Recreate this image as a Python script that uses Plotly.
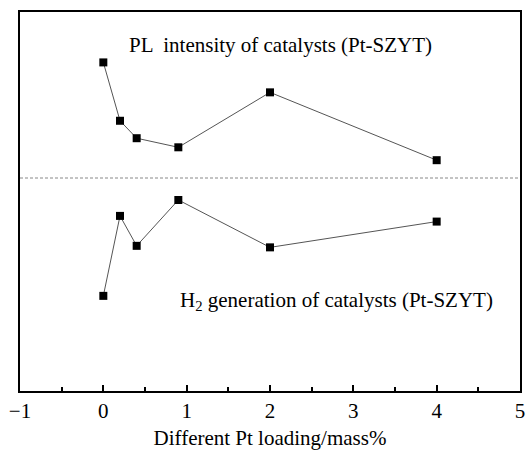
import plotly.graph_objects as go

pt_loading = [0, 0.2, 0.4, 0.9, 2, 4]
pl_intensity = [86.7, 71.3, 66.7, 64.3, 78.8, 60.9]
h2_generation = [25.1, 46.2, 38.3, 50.4, 37.9, 44.7]
divider_y = 56.2
x_ticks = [-1, 0, 1, 2, 3, 4, 5]
x_ticklabels = ["\u22121", "0", "1", "2", "3", "4", "5"]

font_family = "Liberation Serif"

fig = go.Figure()
for ys in (pl_intensity, h2_generation):
    fig.add_trace(go.Scatter(
        x=pt_loading, y=ys, mode="lines+markers",
        line=dict(color="#555555", width=1),
        marker=dict(symbol="square", size=8, color="black"),
        showlegend=False,
    ))

fig.add_shape(type="line", xref="paper", x0=0, x1=1, yref="y", y0=divider_y, y1=divider_y,
              line=dict(color="#888888", width=1, dash="3px,2px"))

fig.add_annotation(x=2.12, y=91.3, text="PL  intensity of catalysts (Pt-SZYT)", showarrow=False,
                   font=dict(family=font_family, size=21, color="black"))
fig.add_annotation(x=2.8, y=23.7, text="H<sub>2</sub> generation of catalysts (Pt-SZYT)", showarrow=False,
                   font=dict(family=font_family, size=21, color="black"))

fig.update_layout(
    width=529, height=451,
    margin=dict(l=20, r=4, t=12, b=60),
    paper_bgcolor="white", plot_bgcolor="white",
    font=dict(family=font_family, size=21, color="black"),
    xaxis=dict(
        range=[-1, 5], tickvals=x_ticks, ticktext=x_ticklabels,
        ticks="inside", ticklen=6, tickwidth=1.5, tickcolor="black",
        minor=dict(ticks="inside", dtick=0.5, ticklen=4, tickwidth=1.5, tickcolor="black"),
        showline=True, linecolor="black", linewidth=2, mirror=True,
        showgrid=False, zeroline=False,
        title=dict(text="Different Pt loading/mass%", font=dict(family=font_family, size=21), standoff=8),
        tickfont=dict(family=font_family, size=21),
    ),
    yaxis=dict(
        range=[0, 100], showticklabels=False, ticks="",
        showline=True, linecolor="black", linewidth=2, mirror=True,
        showgrid=False, zeroline=False,
    ),
)

fig.write_html("out.html")
